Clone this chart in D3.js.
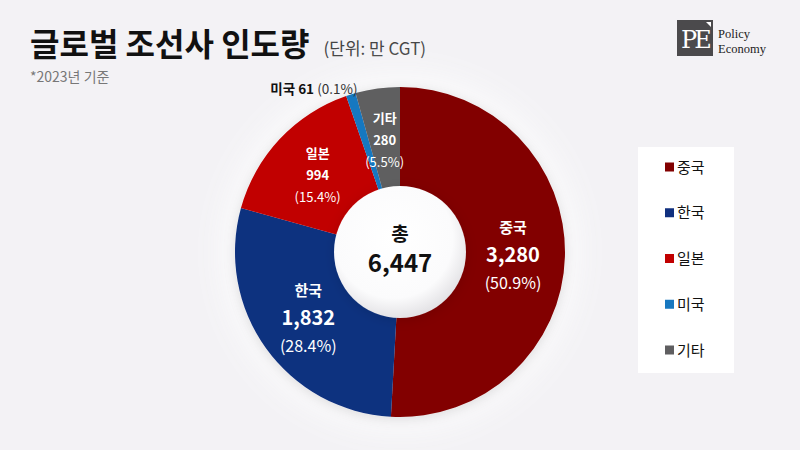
<!DOCTYPE html>
<html><head><meta charset="utf-8">
<script src="https://cdn.jsdelivr.net/npm/d3@7"></script>
<style>
html,body{margin:0;padding:0;background:#f3f2f5;}
svg{display:block;font-family:"Noto Sans CJK KR","Noto Sans",sans-serif;}
</style></head>
<body>
<svg id="c" width="800" height="450"></svg>
<script>
const categories = ["중국","한국","일본","미국","기타"];
const values = [3280, 1832, 994, 61, 280];
const percentLabels = ["50.9%","28.4%","15.4%","0.1%","5.5%"];
const colors = ["#820000","#10307f","#c10000","#1878c0","#5f5e60"];
const totalLabel = "6,447";

const svg = d3.select("#c");
const W = 800, H = 450;
svg.append("rect").attr("width",W).attr("height",H).attr("fill","#f3f2f5");

const defs = svg.append("defs");
const sh = defs.append("filter").attr("id","sh").attr("x","-30%").attr("y","-30%").attr("width","160%").attr("height","160%");
sh.append("feDropShadow").attr("dx",0).attr("dy",2).attr("stdDeviation",6).attr("flood-color","#000").attr("flood-opacity",0.12);
const glow = defs.append("filter").attr("id","glow").attr("x","-50%").attr("y","-50%").attr("width","200%").attr("height","200%");
glow.append("feGaussianBlur").attr("stdDeviation",18);
const rg = defs.append("radialGradient").attr("id","inner").attr("cx","45%").attr("cy","40%").attr("r","60%");
rg.append("stop").attr("offset","0%").attr("stop-color","#ffffff");
rg.append("stop").attr("offset","75%").attr("stop-color","#fbfbfc");
rg.append("stop").attr("offset","100%").attr("stop-color","#e4e3e6");

// Title
const title = svg.append("text").attr("x",30).attr("y",56).attr("font-size",32).attr("font-weight",700).attr("fill","#111").text("글로벌 조선사 인도량");
const tw = title.node().getComputedTextLength();
svg.append("text").attr("x",30+tw+14).attr("y",55).attr("font-size",17).attr("fill","#444").text("(단위: 만 CGT)");
svg.append("text").attr("x",30).attr("y",82).attr("font-size",14).attr("fill","#777").text("*2023년 기준");

// Logo
const lg = svg.append("g");
lg.append("rect").attr("x",677).attr("y",20).attr("width",36).attr("height",36).attr("fill","#4b4a4c");
lg.append("text").attr("x",681).attr("y",48).attr("font-family","DejaVu Serif, serif").attr("font-size",24).attr("fill","#fff").attr("letter-spacing",-3).text("PE");
lg.append("path").attr("d","M706,22 L711,22 L711,27 Z").attr("fill","#fff");
lg.append("text").attr("x",718).attr("y",38).attr("font-family","Liberation Serif, serif").attr("font-size",12.5).attr("fill","#222").text("Policy");
lg.append("text").attr("x",718).attr("y",53).attr("font-family","Liberation Serif, serif").attr("font-size",12.5).attr("fill","#222").text("Economy");

// Donut
const cx = 400, cy = 252, R = 165, r0 = 65;
const g = svg.append("g").attr("transform",`translate(${cx},${cy})`);
g.append("circle").attr("r",R+8).attr("fill","#ffffff").attr("opacity",0.9).attr("filter","url(#glow)");
const pie = d3.pie().sort(null).value(d=>d)(values);
const arc = d3.arc().innerRadius(r0).outerRadius(R);
g.append("g").attr("filter","url(#sh)").selectAll("path").data(pie).join("path")
  .attr("d",arc).attr("fill",(d,i)=>colors[i]);
g.append("circle").attr("r",r0+1).attr("fill","url(#inner)").attr("filter","url(#sh)");

// Total
g.append("text").attr("y",-11).attr("text-anchor","middle").attr("font-size",19).attr("font-weight",700).attr("fill","#111").text("총");
g.append("text").attr("y",20).attr("text-anchor","middle").attr("font-size",24).attr("font-weight",700).attr("fill","#111").text(totalLabel);

// Slice labels
const labelArc = d3.arc().innerRadius(113).outerRadius(113);
pie.forEach((d,i)=>{
  if (values[i] < 100) return;
  const [x,y] = labelArc.centroid(d);
  const big = values[i] > 1000;
  const lg2 = g.append("g").attr("transform",`translate(${x},${y})`).attr("text-anchor","middle").attr("fill","#fff");
  if (big) {
    lg2.append("text").attr("y",-22).attr("font-size",15).attr("font-weight",700).text(categories[i]);
    lg2.append("text").attr("y",7).attr("font-size",20).attr("font-weight",700).text(d3.format(",")(values[i]));
    lg2.append("text").attr("y",34).attr("font-size",16).text("("+percentLabels[i]+")");
  } else {
    lg2.append("text").attr("y",-17).attr("font-size",13).attr("font-weight",700).text(categories[i]);
    lg2.append("text").attr("y",5).attr("font-size",13).attr("font-weight",700).text(d3.format(",")(values[i]));
    lg2.append("text").attr("y",27).attr("font-size",13).text("("+percentLabels[i]+")");
  }
});
// small slice outside label
pie.forEach((d,i)=>{
  if (values[i] >= 100) return;
  const outArc = d3.arc().innerRadius(R+8).outerRadius(R+8);
  const [x,y] = outArc.centroid(d);
  const t = g.append("text").attr("y",y+7).attr("font-size",13.5).attr("fill","#111");
  t.append("tspan").attr("font-weight",700).text(categories[i]+" "+values[i]+" ");
  t.append("tspan").attr("fill","#333").text("("+percentLabels[i]+")");
  const w = t.node().getComputedTextLength();
  t.attr("x", x + 9 - w);
});

// Legend
const leg = svg.append("g");
leg.append("rect").attr("x",638).attr("y",147).attr("width",96).attr("height",226).attr("fill","#ffffff");
const ly = d3.scalePoint().domain(categories).range([167,350]);
categories.forEach((c,i)=>{
  leg.append("rect").attr("x",665).attr("y",ly(c)-4.5).attr("width",9).attr("height",9).attr("fill",colors[i]);
  leg.append("text").attr("x",677).attr("y",ly(c)+5.5).attr("font-size",15).attr("fill","#111").text(c);
});
</script>
</body></html>
